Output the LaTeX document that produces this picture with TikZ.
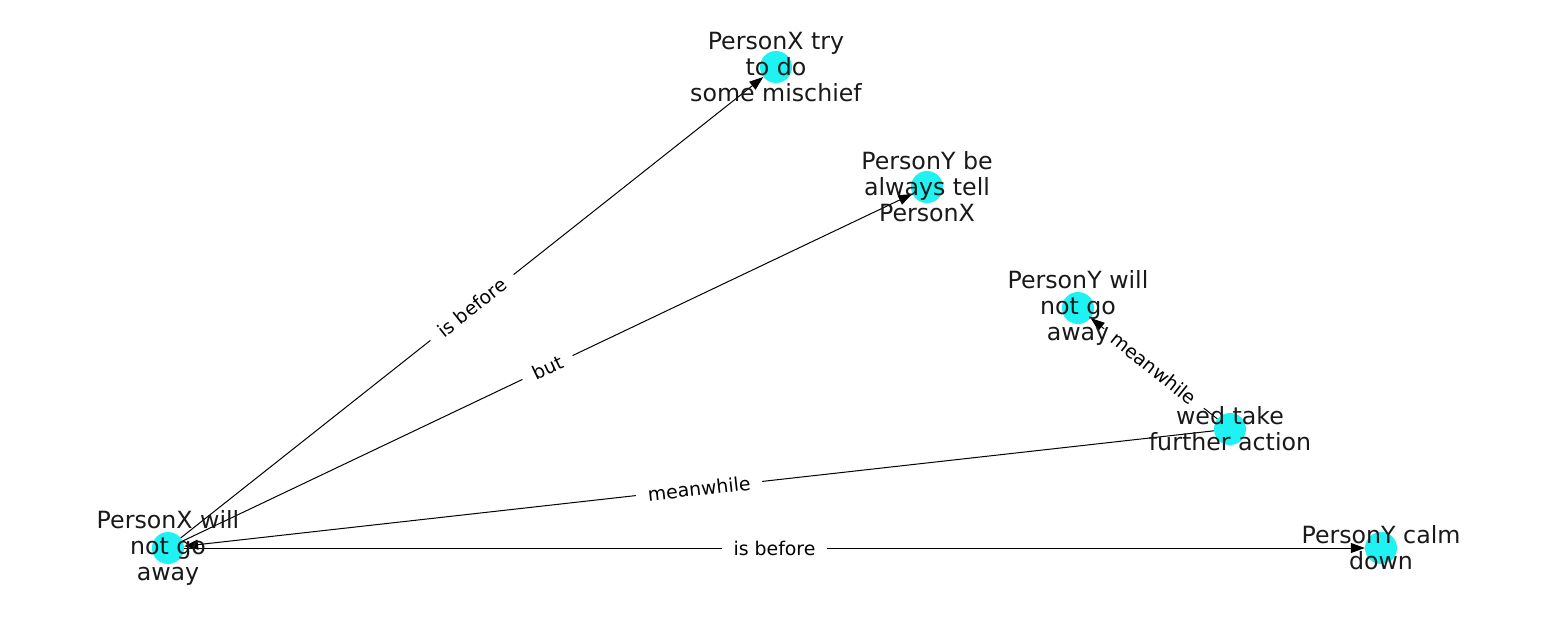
\documentclass[tikz,border=0pt]{standalone}
\usepackage{fontspec}
\setmainfont{DejaVu Sans}
\usetikzlibrary{arrows.meta}
\definecolor{nodecyan}{RGB}{30,242,242}

\begin{document}
\begin{tikzpicture}[x=1pt,y=-1pt,
	dot/.style={circle, fill=nodecyan, minimum size=32pt, inner sep=0pt},
	txt/.style={align=center, inner sep=0pt, text=black!90, font=\fontsize{23.7}{26}\selectfont},
	rel/.style={-{Triangle[length=14pt,width=10pt]}, line width=1pt},
	lbl/.style={midway, sloped, fill=white, inner xsep=12pt, inner ysep=3pt, font=\fontsize{18.9}{22}\selectfont}]
	% Khung
	\useasboundingbox (0,0) rectangle (1550,616);

	% Cac dinh
	\node[dot] (xaway) at (168,548) {};
	\node[dot] (mischief) at (776,67) {};
	\node[dot] (tell) at (927,187) {};
	\node[dot] (yaway) at (1078,308) {};
	\node[dot] (action) at (1230,429) {};
	\node[dot] (calm) at (1381,548) {};

	% Cac canh
	\draw[rel] (xaway) -- (mischief) node[lbl] (l1) {is before};
	\draw[rel] (xaway) -- (tell) node[lbl] (l2) {but};
	\draw[rel] (action) -- (xaway) node[lbl] (l3) {meanwhile};
	\draw[rel] (action) -- (yaway) node[lbl] (l4) {meanwhile};
	\draw[rel] (xaway) -- (calm) node[lbl] (l5) {is before};

	% Nhan
	\node[txt] (t1) at (xaway) {PersonX will\\not go\\away};
	\node[txt] (t2) at (mischief) {PersonX try\\to do\\some mischief};
	\node[txt] (t3) at (tell) {PersonY be\\always tell\\PersonX};
	\node[txt] (t4) at (yaway) {PersonY will\\not go\\away};
	\node[txt] (t5) at (action) {wed take\\further action};
	\node[txt] (t6) at (calm) {PersonY calm\\down};
\end{tikzpicture}
\end{document}
